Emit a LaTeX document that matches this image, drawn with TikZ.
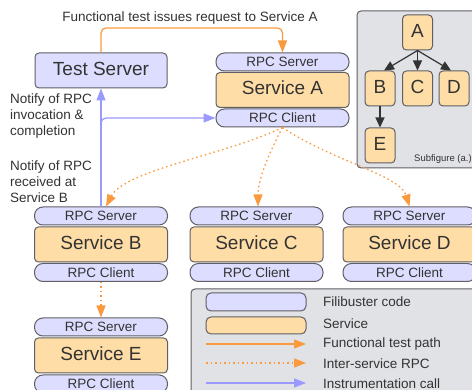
\documentclass[tikz,border=0pt]{standalone}
\usepackage{fontspec}
\setmainfont{Liberation Sans}
\usetikzlibrary{arrows.meta}
\definecolor{lav}{HTML}{DDDDFF}
\definecolor{svc}{HTML}{FFDDA6}
\definecolor{panel}{HTML}{E0E2E6}
\definecolor{edge}{HTML}{5F5F66}
\definecolor{ora}{HTML}{FA9A3C}
\definecolor{blu}{HTML}{9999FF}
\definecolor{txt}{HTML}{333333}
\begin{document}
\begin{tikzpicture}[x=1pt,y=-1pt,
  pill/.style={draw=edge, fill=lav, line width=1pt, rounded corners=8.5pt, minimum width=133pt, minimum height=18pt, inner sep=0pt, text height=1em, text depth=0pt, font=\fontsize{13.5}{15}\selectfont, text=txt},
  svcbox/.style={draw=edge, fill=svc, line width=1pt, rounded corners=4pt, minimum width=133pt, minimum height=35pt, inner sep=0pt, text height=0.95em, text depth=0pt, font=\fontsize{19}{21}\selectfont, text=txt},
  tsbox/.style={draw=edge, fill=lav, line width=1pt, rounded corners=4pt, minimum width=132pt, minimum height=35pt, inner sep=0pt, text height=0.95em, text depth=0pt, font=\fontsize{19}{21}\selectfont, text=txt},
  letter/.style={draw=edge, fill=svc, line width=1pt, rounded corners=4pt, minimum width=30pt, minimum height=35pt, inner sep=0pt, text height=0.95em, text depth=0pt, font=\fontsize{19}{21}\selectfont, text=txt},
  panelbox/.style={draw=edge, fill=panel, line width=1pt, rounded corners=4pt},
  lbl/.style={inner sep=0pt, font=\fontsize{13.5}{16.2}\selectfont, text=txt, align=left},
  oraarr/.style={draw=ora, line width=1.2pt, -{Triangle[length=12pt,width=9pt]}},
  oradot/.style={draw=ora, line width=1.3pt, dash pattern=on 1.5pt off 3pt, -{Triangle[length=12pt,width=9pt]}},
  bluarr/.style={draw=blu, line width=1.2pt, -{Triangle[length=12pt,width=9pt]}},
  darkarr/.style={draw=txt, line width=1.2pt, -{Triangle[length=10pt,width=9pt]}}
]
\useasboundingbox (0,0) rectangle (472,390);
\clip (0,0) rectangle (472,390);
\fill[white] (0,0) rectangle (472,390);

% panels
\draw[panelbox] (357,11) rectangle (490,168);
\draw[panelbox] (191,289) rectangle (490,410);

% test server
\node[tsbox] (ts) at (101,70.5) {Test Server};

% service A
\node[pill] (rsA) at (282.5,62) {RPC Server};
\node[svcbox] (sA) at (282.5,90) {Service A};
\node[pill] (rcA) at (282.5,118) {RPC Client};

% service B
\node[pill] (rsB) at (101,216) {RPC Server};
\node[svcbox] (sB) at (101,244.5) {Service B};
\node[pill] (rcB) at (101,272.5) {RPC Client};

% service C
\node[pill] (rsC) at (256.5,216) {RPC Server};
\node[svcbox] (sC) at (256.5,244.5) {Service C};
\node[pill] (rcC) at (256.5,272.5) {RPC Client};

% service D
\node[pill] (rsD) at (409.5,216) {RPC Server};
\node[svcbox] (sD) at (409.5,244.5) {Service D};
\node[pill] (rcD) at (409.5,272.5) {RPC Client};

% service E
\node[pill] (rsE) at (101,327) {RPC Server};
\node[svcbox] (sE) at (101,355.5) {Service E};
\node[pill] (rcE) at (101,384) {RPC Client};

% labels
\node[lbl] (top) at (190,18) {Functional test issues request to Service A};
\node[lbl, anchor=north west] (n1) at (10,93.5) {Notify of RPC\\invocation \&\\completion};
\node[lbl, anchor=north west] (n2) at (10,160.2) {Notify of RPC\\received at\\Service B};

% functional test path
\coordinate (ftc) at (190,28);
\draw[oraarr, rounded corners=5pt] (ts.north) |- (ftc) -| (rsA.north);

% instrumentation
\draw[bluarr] (rsB.north) -- (ts.south);
\draw[bluarr, rounded corners=5pt] (rsB.north) |- (rcA.west);

% inter-service RPC
\draw[oradot] (rcA.south) .. controls (225,155) and (125,170) .. ([xshift=5pt]rsB.north);
\draw[oradot] (rcA.south) .. controls (268,155) and (258,180) .. ([xshift=1.5pt]rsC.north);
\draw[oradot] (rcA.south) .. controls (330,160) and (400,175) .. (rsD.north);
\draw[oradot] (rcB.south) -- (rsE.north);

% subfigure
\node[letter] (a) at (417.5,32.5) {A};
\node[letter] (b) at (380,88.5) {B};
\node[letter] (c) at (417.5,88.5) {C};
\node[letter] (d) at (454,88.5) {D};
\node[letter] (e) at (380,145.5) {E};
\draw[darkarr] (a.south) -- ([xshift=4pt]b.north);
\draw[darkarr] (a.south) -- (c.north);
\draw[darkarr] (a.south) -- ([xshift=-3pt]d.north);
\draw[darkarr] (b.south) -- (e.north);
\node[inner sep=0pt, font=\fontsize{9.5}{11}\selectfont, text=txt, anchor=base west] (sub) at (414,162) {Subfigure (a.)};

% legend
\node[draw=edge, fill=lav, line width=1pt, rounded corners=5pt, minimum width=100pt, minimum height=18pt, inner sep=0pt] (lg1) at (256,302) {};
\node[draw=edge, fill=svc, line width=1pt, rounded corners=5pt, minimum width=100pt, minimum height=17pt, inner sep=0pt] (lg2) at (256,325.5) {};
\coordinate (l3a) at (206,344); \coordinate (l3b) at (306,344);
\coordinate (l4a) at (206,363); \coordinate (l4b) at (306,363);
\coordinate (l5a) at (206,383); \coordinate (l5b) at (306,383);
\draw[oraarr] (l3a) -- (l3b);
\draw[oradot] (l4a) -- (l4b);
\draw[bluarr] (l5a) -- (l5b);
\node[lbl, anchor=west] (t1) at (323,302) {Filibuster code};
\node[lbl, anchor=west] (t2) at (323,323.5) {Service};
\node[lbl, anchor=west] (t3) at (323,344) {Functional test path};
\node[lbl, anchor=west] (t4) at (323,363.5) {Inter-service RPC};
\node[lbl, anchor=west] (t5) at (323,383.5) {Instrumentation call};
\end{tikzpicture}
\end{document}
